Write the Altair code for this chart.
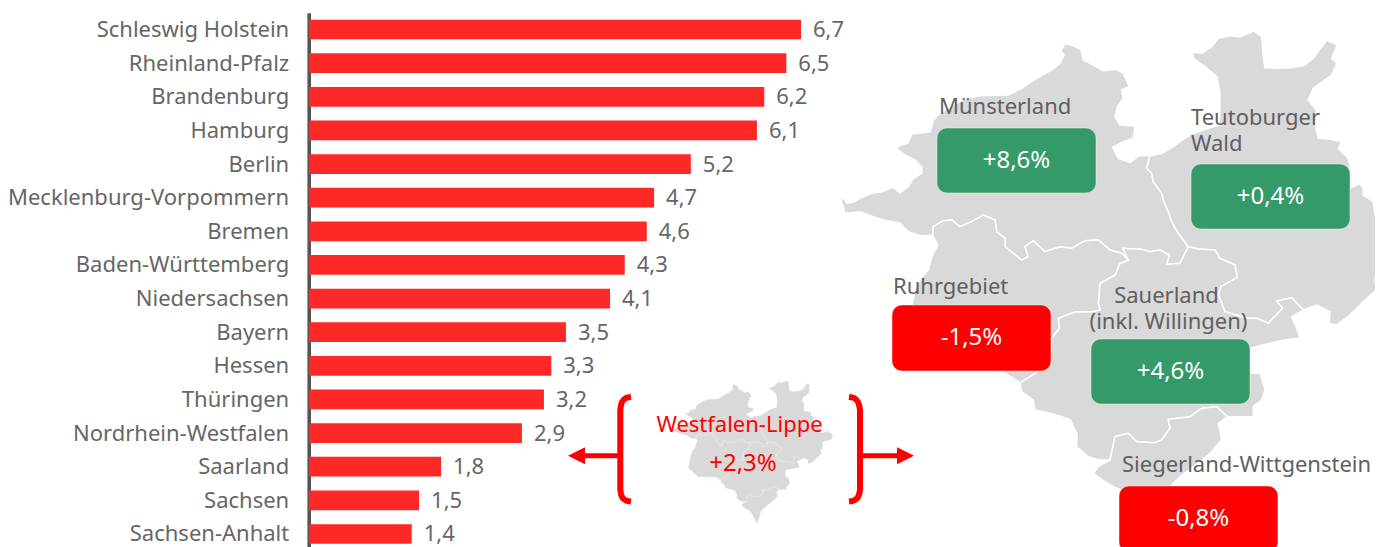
import altair as alt

FONT = "Noto Sans"
W, H = 1367, 539

# ---- bar chart data
states = ["Schleswig Holstein", "Rheinland-Pfalz", "Brandenburg", "Hamburg", "Berlin",
          "Mecklenburg-Vorpommern", "Bremen", "Baden-Württemberg", "Niedersachsen", "Bayern",
          "Hessen", "Thüringen", "Nordrhein-Westfalen", "Saarland", "Sachsen", "Sachsen-Anhalt"]
values = [6.7, 6.5, 6.2, 6.1, 5.2, 4.7, 4.6, 4.3, 4.1, 3.5, 3.3, 3.2, 2.9, 1.8, 1.5, 1.4]
value_labels = [f"{v:.1f}".replace(".", ",") for v in values]


def A(p):
    return [(840 + x / 3, 30 + y / 3) for x, y in p]


def B(p):
    return [(1130 + x / 3, 25 + y / 3) for x, y in p]


def C(p):
    return [(1020 + x / 3, 260 + y / 3) for x, y in p]


J0 = B([(60, 392)])
J1 = A([(865, 690)])
J2 = B([(175, 665)])
TS_END = B([(520, 855)])
SS_E = C([(622, 470)])
SS_W = C([(270, 600)])
RS_W = C([(0, 368)])
MR_W = A([(278, 615)])

n_muenster = A([(0, 503), (12, 507), (20, 520), (40, 517), (70, 500), (95, 490), (125, 485), (160, 472), (180, 488),
                (205, 470), (220, 445), (245, 430), (245, 410), (225, 390), (195, 375), (172, 358), (175, 348),
                (205, 338), (215, 312), (270, 305), (280, 270), (300, 250), (340, 225), (380, 205), (420, 197),
                (505, 195), (545, 175), (585, 148), (635, 120), (660, 100), (672, 75), (663, 62), (675, 40),
                (700, 48), (722, 58), (730, 90), (760, 105), (790, 122), (830, 118), (850, 130), (868, 170),
                (845, 180), (850, 205), (832, 230), (825, 260), (840, 285), (885, 288), (880, 325), (850, 335),
                (818, 352), (835, 385), (870, 397), (900, 375)]) + B([(30, 392)]) + J0
muenster_teuto = J0 + B([(50, 430), (65, 445), (70, 470), (95, 505), (100, 525), (115, 560), (125, 590), (145, 625)]) + J2
sauer_top = J1 + A([(848, 655), (900, 658)]) + B([(30, 672), (60, 680), (90, 675), (118, 690), (110, 718), (150, 715)]) + J2
muenster_ruhr = MR_W + A([(280, 590), (310, 572), (335, 570), (360, 590), (395, 575), (430, 555), (465, 570), (470, 605),
                          (495, 625), (495, 650), (545, 690), (565, 680), (555, 650), (580, 632), (615, 665), (660, 650),
                          (695, 655), (735, 632), (775, 630), (810, 660), (845, 670)]) + J1
w_lower = MR_W + A([(245, 618), (205, 605), (180, 580), (130, 570), (100, 560), (60, 545), (15, 550), (10, 530), (0, 503)])
teuto_outer = J0 + B([(95, 385), (130, 365), (165, 340), (190, 325), (268, 300), (270, 240), (270, 205), (260, 155), (225, 125),
                      (190, 100), (188, 82), (215, 85), (245, 65), (265, 40), (295, 32), (330, 35), (372, 18), (395, 35),
                      (400, 100), (405, 128), (440, 130), (480, 128), (520, 122), (550, 100), (575, 65), (590, 45),
                      (622, 60), (605, 100), (620, 115), (605, 150), (550, 190), (535, 225), (560, 255), (555, 280),
                      (558, 310), (565, 340), (600, 342), (635, 350), (625, 370), (650, 395), (660, 416), (660, 490),
                      (690, 475), (700, 490), (700, 510), (730, 530), (735, 570), (759, 568), (800, 550), (864, 590),
                      (850, 640), (770, 660), (750, 670), (755, 700), (750, 740), (733, 765), (745, 790), (700, 830),
                      (660, 870), (620, 900), (597, 895), (600, 860), (560, 840)]) + TS_END
teuto_sauer = J2 + B([(205, 672), (255, 675), (270, 700), (315, 720), (322, 757), (272, 785), (265, 810), (285, 860),
                      (350, 880), (380, 880), (415, 895), (458, 850), (440, 828), (485, 818)]) + TS_END
sauer_outer = TS_END + C([(815, 170), (830, 205), (840, 235), (790, 240), (690, 265), (690, 340), (720, 338), (735, 390),
                          (725, 420), (700, 440), (700, 470), (650, 470)]) + SS_E
sauer_sieg = SS_E + C([(590, 440), (545, 445), (510, 470), (445, 478), (450, 505), (425, 540), (405, 548), (350, 545),
                       (325, 520), (285, 530)]) + SS_W
sieg_outer = SS_E + C([(595, 490), (600, 510), (605, 540), (570, 580), (545, 600), (480, 650), (430, 700), (387, 837),
                       (340, 740), (305, 690), (280, 680), (255, 665), (220, 640), (235, 620)]) + SS_W
sauer_west = SS_W + C([(235, 600), (205, 590), (170, 560), (172, 525), (150, 478), (100, 462), (45, 450), (40, 420),
                       (5, 395)]) + RS_W
ruhr_sauer = RS_W + C([(45, 340), (90, 300), (95, 235), (118, 205), (115, 175), (165, 155), (215, 155), (240, 150),
                       (235, 130), (240, 70), (285, 45), (300, 10)]) + J1
ruhr_west = RS_W + [(1003, 372), (940, 371), (905, 340), (912, 305), (915, 290)] + A([(245, 740), (265, 720), (275, 680),
                                                                                     (293, 645)]) + MR_W


def rev(p):
    return p[::-1]


regions = {
    "Münsterland": n_muenster + muenster_teuto + rev(sauer_top) + rev(muenster_ruhr) + w_lower,
    "Teutoburger Wald": teuto_outer + rev(teuto_sauer) + rev(muenster_teuto),
    "Sauerland": sauer_top + teuto_sauer + sauer_outer + sauer_sieg + sauer_west + ruhr_sauer,
    "Siegerland-Wittgenstein": sieg_outer + rev(sauer_sieg),
    "Ruhrgebiet": muenster_ruhr + rev(ruhr_sauer) + ruhr_west,
}

# the small inset repeats the same outline at a smaller size
K = 1 / 3.55


def feats(f):
    return [{"type": "Feature", "properties": {"name": k},
             "geometry": {"type": "Polygon", "coordinates": [[f(p) for p in v]]}}
            for k, v in regions.items()]


big_features = feats(lambda p: [round(p[0], 1), round(p[1], 1)])
small_features = feats(lambda p: [round(670 + (p[0] - 840) * K, 2), round(381 + (p[1] - 31) * K, 2)])

# ---- callout boxes
box_x0 = [937, 1191, 892, 1091, 1119]
box_x1 = [1096, 1350, 1051, 1250, 1278]
box_y0 = [128, 164, 305, 339, 486]
box_y1 = [193, 229, 371, 404, 552]
box_ym = [160.5, 196.5, 338, 371.5, 518.5]
box_col = ["#359a69", "#359a69", "#fe0000", "#359a69", "#fe0000"]
box_txt = ["+8,6%", "+0,4%", "-1,5%", "+4,6%", "-0,8%"]

# ---- map captions
cap_text = ["Münsterland", "Teutoburger", "Wald", "Ruhrgebiet", "Siegerland-Wittgenstein"]
cap_x = [939, 1191, 1191, 893, 1122]
cap_y = [107, 118, 144, 286.5, 465]
cap2_text = ["Sauerland", "(inkl. Willingen)"]
cap2_x = [1166.5, 1168.5]
cap2_y = [295.5, 321.5]
wl_text = ["Westfalen-Lippe"]
wl_x = [739.5]
wl_y = [424.5]
wl2_text = ["+2,3%"]
wl2_x = [743]
wl2_y = [464]

# ---- brackets and arrows
br_left_x = [631, 626, 622, 620.3, 620.3, 622, 626, 631]
br_right_x = [849, 854, 858, 860, 860, 858, 854, 849]
br_y = [397, 398, 402, 410, 490, 497, 500.5, 501.5]
arrow_y = 455.7
arrows = [(618, 580), (860, 902)]
heads = [(576.5, "M1,-1L-1,0L1,1Z"), (905.5, "M-1,-1L1,0L-1,1Z")]

GREY = "#666666"
px = alt.Scale(domain=[8, 8 + W], range=[0, W])
py = alt.Scale(domain=[8, 8 + H], range=[0, H])
X = lambda f, **k: alt.X(f, type="quantitative", scale=px, axis=None, **k)
Y = lambda f, **k: alt.Y(f, type="quantitative", scale=py, axis=None, **k)
X2 = lambda f: alt.X2(f)

val_x = alt.Scale(domain=[0, 6.7], range=[300.9, 793])
band = alt.Scale(domain=states, range=[4.7, 542.8], paddingInner=0.414, paddingOuter=0.207)
bars_d = alt.Data(values=[{"s": s, "v": v, "l": l} for s, v, l in zip(states, values, value_labels)])

proj = dict(type="identity", scale=1, translate=[-8, -8])
big_map = alt.Chart(alt.Data(values=big_features)).mark_geoshape(
    fill="#d9d9d9", stroke="white", strokeWidth=1.5).project(**proj)
small_map = alt.Chart(alt.Data(values=small_features)).mark_geoshape(
    fill="#d9d9d9", stroke="#eeeeee", strokeWidth=0.4).project(**proj)

bars = alt.Chart(bars_d).mark_bar(color="#fe2826").encode(
    x=alt.X("v:Q", scale=val_x, axis=None),
    y=alt.Y("s:N", scale=band, sort=None, title=None,
            axis=alt.Axis(orient="left", offset=-300.7, ticks=False, domainWidth=3.6, domainColor="#555555",
                          labelFont=FONT, labelFontSize=22, labelColor=GREY, labelPadding=20, labelOffset=0.5,
                          labelLimit=400, title=None, grid=False)),
)
val_txt = alt.Chart(bars_d).mark_text(font=FONT, fontSize=22, color=GREY, align="left", dx=12, baseline="middle", dy=0.5).encode(
    x=alt.X("v:Q", scale=val_x, axis=None),
    y=alt.Y("s:N", scale=band, sort=None, axis=None),
    text="l:N",
)

box_d = alt.Data(values=[dict(x0=a, x1=b, y0=c, y1=d, c=e, t=f, xm=(a + b) / 2, ym=g)
                         for a, b, c, d, e, f, g in zip(box_x0, box_x1, box_y0, box_y1, box_col, box_txt, box_ym)])
boxes = alt.Chart(box_d).mark_rect(cornerRadius=10, stroke="#f2f2f2", strokeWidth=0.5).encode(
    x=X("x0"), x2=X2("x1"), y=Y("y0"), y2=X2("y1"), color=alt.Color("c:N", scale=None))
box_lbl = alt.Chart(box_d).mark_text(font=FONT, fontSize=24, color="white", baseline="middle").encode(
    x=X("xm"), y=Y("ym"), text="t:N")


def texts(ts, xs, ys, align, color, size=22):
    d = alt.Data(values=[dict(t=t, x=x, y=y) for t, x, y in zip(ts, xs, ys)])
    return alt.Chart(d).mark_text(font=FONT, fontSize=size, color=color, align=align, baseline="middle").encode(
        x=X("x"), y=Y("y"), text="t:N")


caps = texts(cap_text, cap_x, cap_y, "left", "#5f5f5f")
caps2 = texts(cap2_text, cap2_x, cap2_y, "center", "#5f5f5f")
wl = texts(wl_text, wl_x, wl_y, "center", "#fe0000")
wl2 = texts(wl2_text, wl2_x, wl2_y, "center", "#fe0000", 24)


def poly(xs, ys):
    d = alt.Data(values=[dict(x=a, y=b, i=i) for i, (a, b) in enumerate(zip(xs, ys))])
    return alt.Chart(d).mark_line(color="#fe0000", strokeWidth=6, strokeCap="butt", interpolate="monotone").encode(
        x=X("x"), y=Y("y"), order="i:Q")


br_l = poly(br_left_x, br_y)
br_r = poly(br_right_x, br_y)
arr_l = alt.Chart(alt.Data(values=[dict(a=arrows[0][0], b=arrows[0][1], y=arrow_y)])).mark_rule(
    color="#fe0000", strokeWidth=5).encode(x=X("a"), x2=X2("b"), y=Y("y"))
arr_r = alt.Chart(alt.Data(values=[dict(a=arrows[1][0], b=arrows[1][1], y=arrow_y)])).mark_rule(
    color="#fe0000", strokeWidth=5).encode(x=X("a"), x2=X2("b"), y=Y("y"))
head_l = alt.Chart(alt.Data(values=[dict(x=heads[0][0], y=arrow_y)])).mark_point(
    shape=heads[0][1], size=289, filled=True, fill="#fe0000", stroke=None, opacity=1).encode(x=X("x"), y=Y("y"))
head_r = alt.Chart(alt.Data(values=[dict(x=heads[1][0], y=arrow_y)])).mark_point(
    shape=heads[1][1], size=289, filled=True, fill="#fe0000", stroke=None, opacity=1).encode(x=X("x"), y=Y("y"))

chart = alt.layer(
    big_map, small_map, bars, val_txt, boxes, box_lbl, caps, caps2, wl, wl2,
    br_l, br_r, arr_l, arr_r, head_l, head_r,
).resolve_scale(x="independent", y="independent", color="independent").resolve_axis(
    x="independent", y="independent"
).properties(
    width=W, height=H, padding=0, autosize=alt.AutoSizeParams(type="none"), background="white"
).configure_view(stroke=None)

chart.save("out.html", embed_options={"renderer": "svg", "actions": False})
